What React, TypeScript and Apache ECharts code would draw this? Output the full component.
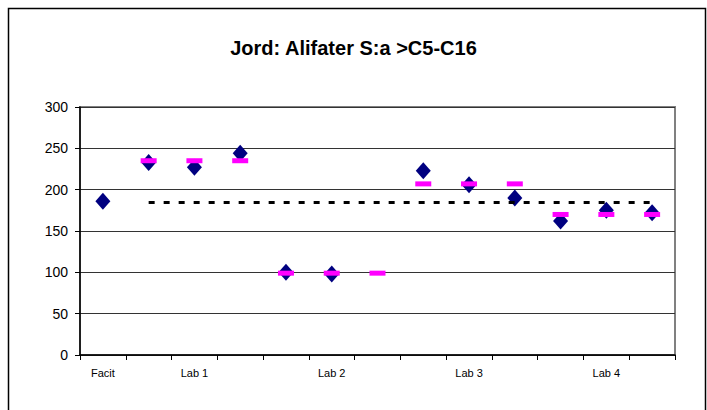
import React, { useEffect, useRef } from "react";
import * as echarts from "echarts";

// One slot per measurement: the reference value, then three replicates per lab
const slotIds = ["F", "1a", "1b", "1c", "2a", "2b", "2c", "3a", "3b", "3c", "4a", "4b", "4c"];
const slotLabels = ["Facit", "", "Lab 1", "", "", "Lab 2", "", "", "Lab 3", "", "", "Lab 4", ""];

// Individual results (mg/kg)
const results: (number | null)[] = [186, 233, 227, 244, 100, 98, null, 223, 206, 190, 162, 175, 172];
// Lab means, shown as a bar on each replicate
const labMeans: (number | null)[] = [null, 235, 235, 235, 99, 99, 99, 207, 207, 207, 170, 170, 170];
// Overall level drawn as the dotted line
const overallLevel = 184.5;

const yMin = 0;
const yMax = 300;
const yStep = 50;

const FONT = "'Liberation Sans', Arial, Helvetica, sans-serif";

export default function App() {
  const ref = useRef<HTMLDivElement>(null);

  useEffect(() => {
    if (!ref.current) return;
    const chart = echarts.init(ref.current, null, { renderer: "svg" });
    chart.setOption({
      animation: false,
      backgroundColor: "#fff",
      title: {
        text: "Jord: Alifater S:a >C5-C16",
        left: "center",
        top: 33,
        textStyle: { fontFamily: FONT, fontSize: 20, fontWeight: "bold", color: "#000" },
      },
      graphic: [
        {
          type: "rect",
          silent: true,
          shape: { x: 8.5, y: 8.5, width: 697, height: 420 },
          style: { fill: "none", stroke: "#000", lineWidth: 1.5 },
        },
      ],
      grid: {
        left: 80,
        right: 32,
        top: 107,
        bottom: 55,
        show: true,
        borderColor: "#808080",
        borderWidth: 2,
        backgroundColor: "#fff",
      },
      xAxis: {
        type: "category",
        data: slotIds,
        boundaryGap: true,
        axisLine: { show: true, lineStyle: { color: "#000", width: 1.5 } },
        axisTick: { show: true, interval: 0, length: 5, lineStyle: { color: "#000", width: 1 } },
        axisLabel: {
          interval: 0,
          margin: 12,
          fontFamily: FONT,
          fontSize: 11,
          color: "#000",
          formatter: (_v: string, i: number) => slotLabels[i],
        },
        splitLine: { show: false },
      },
      yAxis: {
        type: "value",
        min: yMin,
        max: yMax,
        interval: yStep,
        axisLine: { show: true, lineStyle: { color: "#000", width: 1.5 } },
        axisTick: { show: true, length: 5, lineStyle: { color: "#000" } },
        axisLabel: { margin: 12, fontFamily: FONT, fontSize: 14, color: "#000" },
        splitLine: { show: true, lineStyle: { color: "#333", width: 1 } },
      },
      series: [
        {
          name: "Resultat",
          type: "scatter",
          data: results,
          symbol: "diamond",
          symbolSize: [15, 17],
          itemStyle: { color: "#000080", opacity: 1 },
          z: 2,
          markLine: {
            silent: true,
            symbol: "none",
            label: { show: false },
            lineStyle: { color: "#000", width: 3, type: [6, 9], opacity: 1 },
            data: [
              [
                { coord: [slotIds[1], overallLevel] },
                { coord: [slotIds[slotIds.length - 1], overallLevel] },
              ],
            ],
          },
        },
        {
          name: "Medel",
          type: "scatter",
          data: labMeans,
          symbol: "rect",
          symbolSize: [16, 5],
          itemStyle: { color: "#FF00FF", opacity: 1 },
          z: 3,
        },
      ],
    });
    return () => chart.dispose();
  }, []);

  return (
    <div
      ref={ref}
      style={{ position: "fixed", left: 0, top: 0, width: 707, height: 410, background: "#fff" }}
    />
  );
}
